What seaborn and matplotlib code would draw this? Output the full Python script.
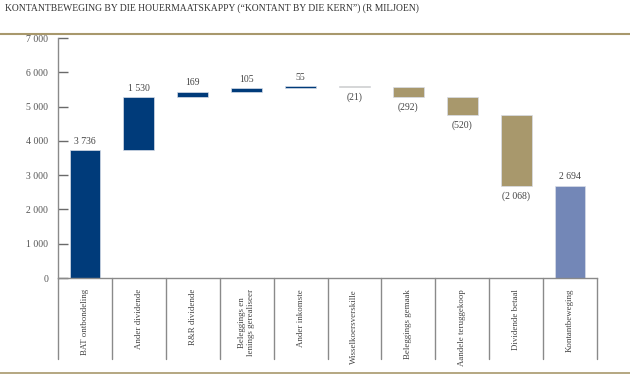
import matplotlib
matplotlib.use("Agg")
import matplotlib.pyplot as plt
from matplotlib.lines import Line2D
import matplotlib.transforms as mtransforms
import seaborn as sns

categories = ["BAT ontbondeling", "Ander dividende", "R&R dividende",
              "Beleggings en\nlenings gerealiseer", "Ander inkomste",
              "Wisselkoersverskille", "Beleggings gemaak", "Aandele teruggekoop",
              "Dividende betaal", "Kontantbeweging"]
changes = [3736, 1530, 169, 105, 55, -21, -292, -520, -2068]
total = 2694
value_labels = ["3 736", "1 530", "169", "105", "55", "(21)", "(292)", "(520)", "(2 068)", "2 694"]
yticks = [0, 1000, 2000, 3000, 4000, 5000, 6000, 7000]
ytick_labels = ["0", "1 000", "2 000", "3 000", "4 000", "5 000", "6 000", "7 000"]

c_pos = "#003B7A"
c_neg = "#A8986C"
c_tot = "#7387B7"

bottoms, heights, colors = [], [], []
run = 0
for ch in changes:
    start, end = run, run + ch
    bottoms.append(min(start, end))
    heights.append(abs(ch))
    colors.append(c_pos if ch >= 0 else c_neg)
    run = end
bottoms.append(0)
heights.append(total)
colors.append(c_tot)

sns.set_style("white")
plt.rcParams["font.family"] = ["Liberation Serif", "DejaVu Serif"]

fig = plt.figure(figsize=(6.3, 3.8), dpi=100)
W, H = 630, 380
ax = fig.add_axes([58 / W, (H - 278) / H, (597 - 58) / W, (278 - 38) / H])

for cat, h, b, c in zip(categories, heights, bottoms, colors):
    sns.barplot(x=[cat], y=[h], bottom=b, order=categories, color=c, width=0.57,
                saturation=1, ax=ax, edgecolor="#d8dde8", linewidth=0.5)

ax.set_xlim(-0.5, 9.5)
ax.set_ylim(0, 7000)
ax.set_xlabel("")
ax.set_ylabel("")

for s in ["top", "right"]:
    ax.spines[s].set_visible(False)
for s in ["left", "bottom"]:
    ax.spines[s].set_color("#8a8a8a")
    ax.spines[s].set_linewidth(1.0)

ax.set_yticks(yticks)
ax.set_yticklabels(ytick_labels, fontsize=7, color="#555555")
ax.tick_params(axis="y", left=True, direction="in", length=7, width=1,
               color="#6a6a6a", pad=7)
ax.set_xticks(range(len(categories)))
ax.set_xticklabels(categories, rotation=90, fontsize=6.4, color="#444444",
                   va="top", ha="center", linespacing=1.1)
ax.tick_params(axis="x", bottom=False, length=0, pad=8)

# category dividers below axis
trans = mtransforms.blended_transform_factory(ax.transData, ax.transAxes)
depth = (359 - 278) / (278 - 38)
for xd in [i - 0.5 for i in range(len(categories) + 1)]:
    ax.add_line(Line2D([xd, xd], [0, -depth], transform=trans, color="#8a8a8a",
                       lw=1.0, clip_on=False))

# value labels
for i, (b, h, lab) in enumerate(zip(bottoms, heights, value_labels)):
    neg = lab.startswith("(")
    if neg:
        ax.annotate(lab, (i, b), xytext=(0, -4), textcoords="offset points",
                    ha="center", va="top", fontsize=7, color="#444444")
    else:
        ax.annotate(lab, (i, b + h), xytext=(0, 3), textcoords="offset points",
                    ha="center", va="bottom", fontsize=7, color="#444444")

fig.text(5 / W, 1 - 8 / H, "KONTANTBEWEGING BY DIE HOUERMAATSKAPPY (\u201cKONTANT BY DIE KERN\u201d) (R MILJOEN)",
         ha="left", va="center", fontsize=6.95, color="#333333")
fig.add_artist(Line2D([0, 1], [1 - 34 / H, 1 - 34 / H], color="#A8986C", lw=1.5))
fig.add_artist(Line2D([0, 1], [1 - 373 / H, 1 - 373 / H], color="#A8986C", lw=1.2))

fig.savefig("out.png", dpi=100)
